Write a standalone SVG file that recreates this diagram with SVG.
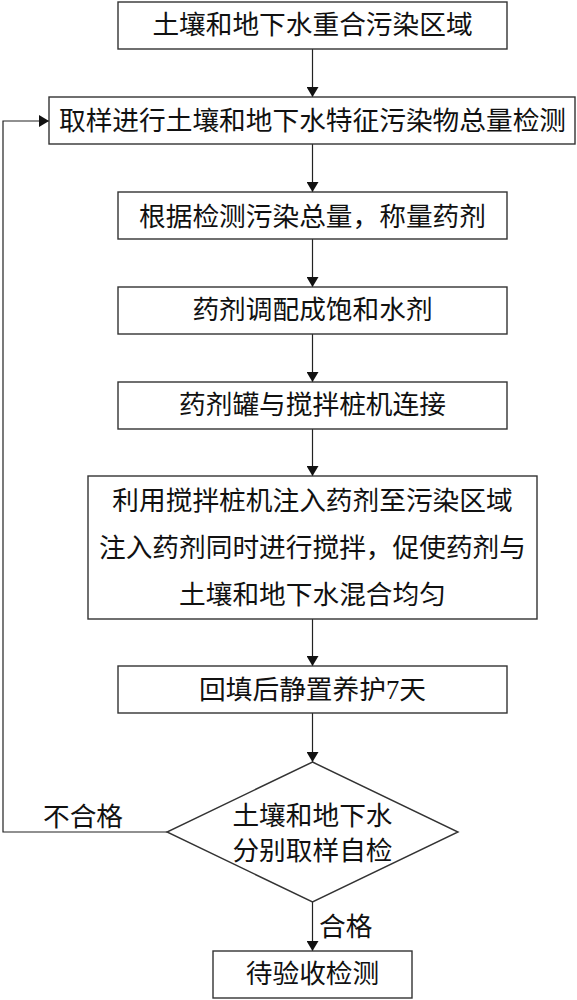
<svg xmlns="http://www.w3.org/2000/svg" width="577" height="1000" viewBox="0 0 577 1000">
<style>
.box{fill:#fff;stroke:#333;stroke-width:1.4}
.t{font-family:"Liberation Serif","Noto Sans CJK SC",serif;font-size:26.7px;fill:#111;text-anchor:middle}
.l{font-family:"Liberation Serif","Noto Sans CJK SC",serif;font-size:26.7px;fill:#111}
.c{fill:none;stroke:#222;stroke-width:1.2}
</style>
<defs>
<marker id="ah" markerUnits="userSpaceOnUse" markerWidth="10" markerHeight="12" refX="10" refY="6" orient="auto">
<path d="M0,0 L10,6 L0,12 z" fill="#111"/>
</marker>
</defs>
<rect width="577" height="1000" fill="#fff"/>
<g id="connectors">
<line class="c" x1="312.5" y1="49" x2="312.5" y2="97" marker-end="url(#ah)"/>
<line class="c" x1="312.5" y1="144" x2="312.5" y2="192" marker-end="url(#ah)"/>
<line class="c" x1="312.5" y1="239" x2="312.5" y2="287" marker-end="url(#ah)"/>
<line class="c" x1="312.5" y1="334" x2="312.5" y2="382" marker-end="url(#ah)"/>
<line class="c" x1="312.5" y1="429" x2="312.5" y2="476" marker-end="url(#ah)"/>
<line class="c" x1="312.5" y1="619" x2="312.5" y2="666" marker-end="url(#ah)"/>
<line class="c" x1="312.5" y1="713" x2="312.5" y2="762" marker-end="url(#ah)"/>
<line class="c" x1="312.5" y1="902" x2="312.5" y2="951" marker-end="url(#ah)"/>
<polyline class="c" points="167,832 3,832 3,121 49,121" marker-end="url(#ah)"/>
<text class="l" x="43" y="826">不合格</text>
<text class="l" x="319" y="935.5">合格</text>
</g>
<g id="n1"><rect class="box" x="118" y="2" width="389" height="47"/><text class="t" x="312.5" y="34">土壤和地下水重合污染区域</text></g>
<g id="n2"><rect class="box" x="49" y="97" width="526" height="47"/><text class="t" x="312.5" y="130">取样进行土壤和地下水特征污染物总量检测</text></g>
<g id="n3"><rect class="box" x="118" y="192" width="389" height="47"/><text class="t" x="312.5" y="226">根据检测污染总量，称量药剂</text></g>
<g id="n4"><rect class="box" x="118" y="287" width="389" height="47"/><text class="t" x="312.5" y="318.5">药剂调配成饱和水剂</text></g>
<g id="n5"><rect class="box" x="118" y="382" width="389" height="47"/><text class="t" x="312.5" y="413.5">药剂罐与搅拌桩机连接</text></g>
<g id="n6"><rect class="box" x="88" y="476" width="449" height="143"/>
<text class="t" x="312.5" y="510">利用搅拌桩机注入药剂至污染区域</text>
<text class="t" x="312.5" y="557">注入药剂同时进行搅拌，促使药剂与</text>
<text class="t" x="312.5" y="604">土壤和地下水混合均匀</text></g>
<g id="n7"><rect class="box" x="118" y="666" width="389" height="47"/><text class="t" x="312.5" y="699">回填后静置养护7天</text></g>
<g id="n8"><polygon class="box" points="312.5,762 458,832 312.5,902 167,832"/>
<text class="t" x="312.5" y="825">土壤和地下水</text>
<text class="t" x="312.5" y="860">分别取样自检</text></g>
<g id="n9"><rect class="box" x="213" y="951" width="199" height="47"/><text class="t" x="312.5" y="982.5">待验收检测</text></g>
</svg>
